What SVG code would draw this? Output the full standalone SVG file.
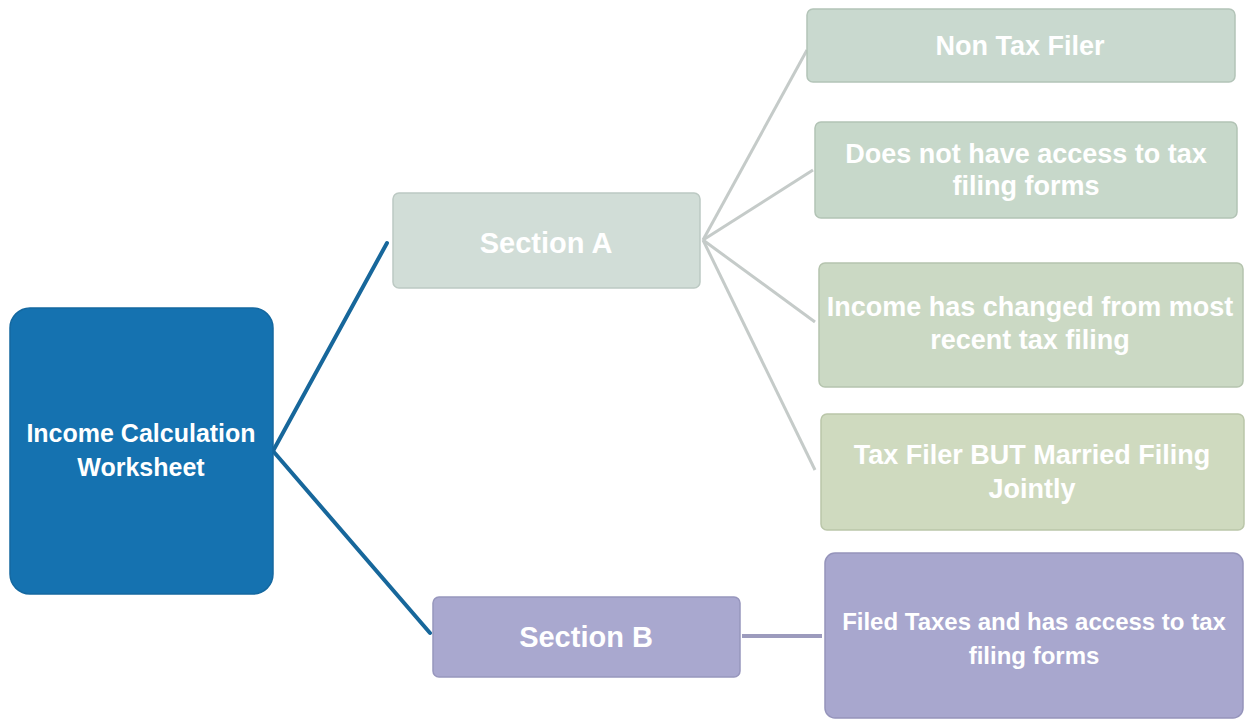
<svg xmlns="http://www.w3.org/2000/svg" width="1249" height="721" viewBox="0 0 1249 721">
<style>
.t{font-family:"Liberation Sans",Arial,sans-serif;font-weight:bold;fill:#ffffff;text-anchor:middle}
.blue{stroke:#17679b;stroke-width:4;fill:none;stroke-linecap:round}
.grey{stroke:#c5cbc9;stroke-width:3;fill:none}
.lav{stroke:#9c9bbd;stroke-width:4;fill:none}
</style>
<rect width="1249" height="721" fill="#ffffff"/>
<g id="connectors">
<line class="blue" x1="273" y1="451" x2="387" y2="243"/>
<line class="blue" x1="273" y1="451" x2="430" y2="633"/>
<line class="grey" x1="703" y1="240" x2="807" y2="50"/>
<line class="grey" x1="703" y1="240" x2="813" y2="170"/>
<line class="grey" x1="703" y1="240" x2="815" y2="322"/>
<line class="grey" x1="703" y1="240" x2="815" y2="470"/>
<line class="lav" x1="742" y1="636" x2="822" y2="636"/>
</g>
<g id="main">
<rect x="10" y="308" width="263" height="286" rx="20" fill="#1572b0" stroke="#1468a0" stroke-width="1.5"/>
<text class="t" x="141" y="442" font-size="25">Income Calculation</text>
<text class="t" x="141" y="476" font-size="25">Worksheet</text>
</g>
<g id="sectionA">
<rect x="393" y="193" width="307" height="95" rx="6" fill="#d1ddd7" stroke="#bcc9c3" stroke-width="1.5"/>
<text class="t" x="546" y="253" font-size="29">Section A</text>
</g>
<g id="nonTaxFiler">
<rect x="807" y="9" width="428" height="73" rx="6" fill="#c9d9cf" stroke="#b3c4b8" stroke-width="1.5"/>
<text class="t" x="1020" y="55" font-size="27">Non Tax Filer</text>
</g>
<g id="noAccess">
<rect x="815" y="122" width="422" height="96" rx="6" fill="#c7d8ca" stroke="#b2c3b5" stroke-width="1.5"/>
<text class="t" x="1026" y="163" font-size="27">Does not have access to tax</text>
<text class="t" x="1026" y="195" font-size="27">filing forms</text>
</g>
<g id="incomeChanged">
<rect x="819" y="263" width="424" height="124" rx="6" fill="#cbd9c4" stroke="#b5c4ae" stroke-width="1.5"/>
<text class="t" x="1030" y="316" font-size="27">Income has changed from most</text>
<text class="t" x="1030" y="349" font-size="27">recent tax filing</text>
</g>
<g id="marriedJointly">
<rect x="821" y="414" width="423" height="116" rx="6" fill="#cfdabf" stroke="#bac6a9" stroke-width="1.5"/>
<text class="t" x="1032" y="464" font-size="27">Tax Filer BUT Married Filing</text>
<text class="t" x="1032" y="498" font-size="27">Jointly</text>
</g>
<g id="sectionB">
<rect x="433" y="597" width="307" height="80" rx="6" fill="#a9a8cf" stroke="#9796bd" stroke-width="1.5"/>
<text class="t" x="586" y="647" font-size="29">Section B</text>
</g>
<g id="filedTaxes">
<rect x="825" y="553" width="418" height="165" rx="10" fill="#a8a7ce" stroke="#9594bb" stroke-width="1.5"/>
<text class="t" x="1034" y="630" font-size="24">Filed Taxes and has access to tax</text>
<text class="t" x="1034" y="664" font-size="24">filing forms</text>
</g>
</svg>
